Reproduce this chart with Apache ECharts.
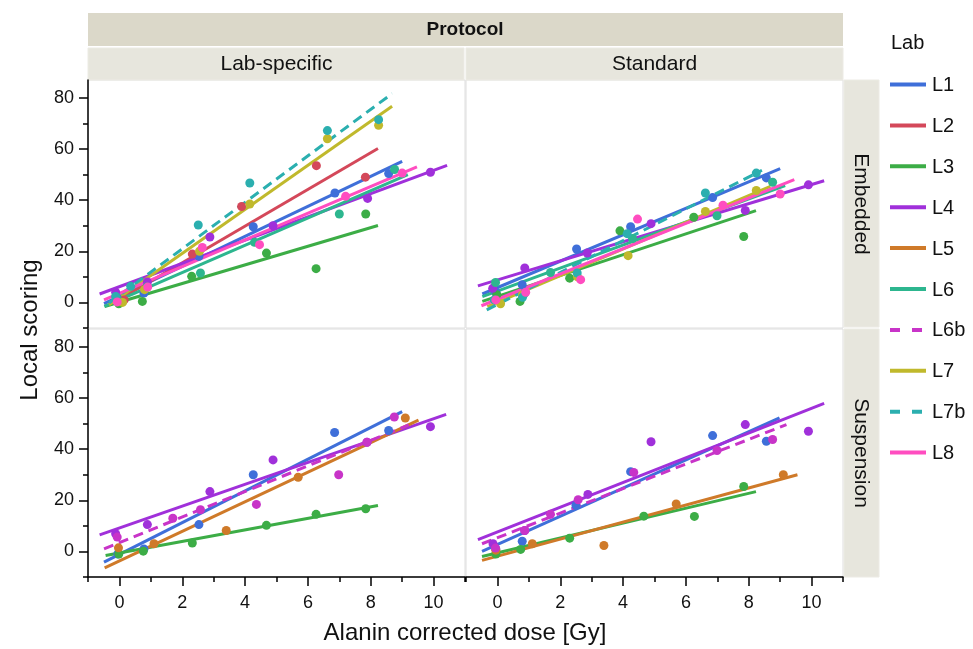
<!DOCTYPE html>
<html>
<head>
<meta charset="utf-8">
<script src="https://cdn.jsdelivr.net/npm/echarts@6/dist/echarts.min.js"></script>
<style>html,body{margin:0;padding:0;background:#fff}#c{width:973px;height:649px}</style>
</head>
<body>
<div id="c"></div>
<script>
// ---------- DATA ----------
const labs = ['L1','L2','L3','L4','L5','L6','L6b','L7','L7b','L8'];
const protocols = ['Lab-specific','Standard'];
const matrices = ['Embedded','Suspension'];
const xTicks = [0,2,4,6,8,10];
const yTicks = [0,20,40,60,80];

// Points per lab: [dose, score]  (Lab-specific / Embedded)
const ptsLabEmb = {
  L1: [[-0.05,1.5],[0.78,3.7],[2.53,18],[4.26,29.6],[6.86,42.8],[8.57,50.4]],
  L2: [[0.15,1],[2.32,18.9],[3.89,37.5],[6.27,53.5],[7.83,49]],
  L3: [[-0.02,-0.5],[0.73,0.4],[2.3,10.2],[4.68,19.3],[6.26,13.2],[7.84,34.6]],
  L4: [[-0.12,4],[0.89,8],[2.88,25.6],[4.89,30],[7.9,40.7],[9.9,50.9]],
  L6: [[-0.05,1],[0.87,6],[2.58,11.5],[4.3,23.5],[7.0,34.6],[8.76,52]],
  L7: [[0.1,0],[0.8,5],[2.55,20],[4.15,38.5],[6.62,64],[8.25,69.3]],
  L7b:[[-0.12,2.3],[0.36,6.3],[2.51,30.3],[4.15,46.7],[6.62,67.2],[8.25,71.5]],
  L8: [[-0.07,0.2],[0.9,6],[2.64,21.5],[4.46,22.6],[7.2,41.5],[9.0,50.6]]
};
// Fitted lines: [[x0,y0],[x1,y1]]
const fitLabEmb = {
  L1: [[-0.49,-0.5],[9.0,55.2]],
  L2: [[-0.3,-1],[8.23,60.2]],
  L3: [[-0.47,-1.6],[8.23,30.1]],
  L4: [[-0.63,3.3],[10.43,53.6]],
  L6: [[-0.48,-1.5],[9.18,50]],
  L7: [[-0.33,-0.9],[8.68,76.7]],
  L7b:[[-0.33,-0.2],[8.68,81.7]],
  L8: [[-0.49,1],[9.47,53]]
};

// Standard / Embedded
const ptsStdEmb = {
  L1: [[-0.05,4],[0.79,6.9],[2.52,20.9],[4.24,29.6],[6.85,41],[8.56,48.7]],
  L3: [[-0.02,3],[0.72,0.4],[2.3,9.5],[3.9,28],[6.25,33.3],[7.84,25.8]],
  L4: [[-0.15,5.5],[0.87,13.5],[2.86,19.3],[4.89,30.8],[7.89,36],[9.9,46]],
  L6: [[-0.06,7.8],[0.87,3.7],[1.69,11.7],[4.3,25],[6.99,33.9],[8.76,47]],
  L7: [[0.1,-0.5],[0.8,3],[2.55,10],[4.16,18.3],[6.62,35.6],[8.24,43.8]],
  L7b:[[-0.1,1],[0.8,2],[2.54,11.5],[4.13,26.9],[6.62,42.8],[8.24,50.6]],
  L8: [[-0.05,1],[0.9,4],[2.65,8.9],[4.46,32.6],[7.18,38],[9.0,42.4]]
};
const fitStdEmb = {
  L1: [[-0.48,3.3],[9.0,52.3]],
  L3: [[-0.48,0.4],[8.23,35.9]],
  L4: [[-0.62,6.5],[10.4,47.6]],
  L6: [[-0.48,2.3],[9.16,45.7]],
  L7: [[-0.32,-1.6],[8.69,45.4]],
  L7b:[[-0.34,-2.9],[8.42,51.7]],
  L8: [[-0.51,-1.3],[9.45,48]]
};

// Lab-specific / Suspension
const ptsLabSus = {
  L1: [[-0.05,-1],[0.78,1],[2.53,10.5],[4.26,30],[6.85,46.5],[8.57,47.3]],
  L3: [[-0.02,-1],[0.76,0.1],[2.32,3.3],[4.68,10.2],[6.26,14.5],[7.84,16.7]],
  L4: [[-0.12,6.9],[0.89,10.5],[2.88,23.4],[4.89,35.8],[7.88,42.7],[9.9,48.8]],
  L5: [[-0.03,1.4],[1.1,3],[3.4,8.2],[5.69,29],[9.1,52.2]],
  L6b:[[-0.07,5.6],[1.7,13],[2.58,16.3],[4.36,18.4],[6.98,30],[7.88,42.7],[8.75,52.6]]
};
const fitLabSus = {
  L1: [[-0.49,-4.2],[9.0,54.7]],
  L3: [[-0.44,-1.6],[8.23,18]],
  L4: [[-0.63,6.5],[10.4,53.6]],
  L5: [[-0.47,-6.4],[9.52,51.4]],
  L6b:[[-0.49,1.0],[9.21,49.5]]
};

// Standard / Suspension
const ptsStdSus = {
  L1: [[-0.05,1],[0.79,4],[2.5,18],[4.24,31.2],[6.85,45.3],[8.56,43.1]],
  L3: [[-0.05,-1],[0.74,0.8],[2.3,5.2],[4.66,13.8],[6.27,13.7],[7.84,25.4]],
  L4: [[-0.14,3],[0.87,8.2],[2.88,22.3],[4.89,42.9],[7.89,49.6],[9.9,47]],
  L5: [[-0.05,0.5],[1.11,3],[3.39,2.3],[5.69,18.6],[9.1,30]],
  L6b:[[-0.06,1.3],[0.87,8.2],[1.69,14.5],[2.57,20.2],[4.34,30.9],[6.99,39.5],[8.76,43.8]]
};
const fitStdSus = {
  L1: [[-0.49,0],[8.98,52.2]],
  L3: [[-0.49,-2],[8.23,23.4]],
  L4: [[-0.62,4.6],[10.4,57.9]],
  L5: [[-0.49,-3.5],[9.55,30]],
  L6b:[[-0.49,3],[9.2,49.6]]
};

// ---------- STYLE ----------
const colors = {L1:'#3f6fd9',L2:'#d4485a',L3:'#3cad46',L4:'#a030da',L5:'#cf7a29',
  L6:'#2db68f',L6b:'#c834c8',L7:'#c0b92c',L7b:'#2bafaf',L8:'#ff4dc0'};
const dashed = {L6b:true, L7b:true};
const FONT = "'Liberation Sans', Arial, Helvetica, sans-serif";
const X_MIN=-1, X_MAX=11, Y_MIN=-10, Y_MAX=87;

const panels = [
  {pts:ptsLabEmb, fit:fitLabEmb},
  {pts:ptsStdEmb, fit:fitStdEmb},
  {pts:ptsLabSus, fit:fitLabSus},
  {pts:ptsStdSus, fit:fitStdSus}
];
const L=88, W=377, L2x=466, T1=80, H=248, T2=329;
const grids = [
  {left:L, top:T1, width:W, height:H},
  {left:L2x, top:T1, width:W, height:H},
  {left:L, top:T2, width:W, height:H},
  {left:L2x, top:T2, width:W, height:H}
].map(g=>Object.assign(g,{show:true,borderColor:'#dedede',borderWidth:1,containLabel:false}));

const hidden = {axisLine:{show:false,onZero:false},axisTick:{show:false},axisLabel:{show:false},splitLine:{show:false}};
const xAxes=[], yAxes=[];
for (let i=0;i<4;i++){
  const bottom = i>=2, left = (i%2===0);
  xAxes.push(Object.assign({type:'value',gridIndex:i,min:X_MIN,max:X_MAX,position:'bottom'}, bottom ? {
    axisLine:{show:true,onZero:false,lineStyle:{color:'#000',width:1.5}},
    axisTick:{show:true,length:9,customValues:xTicks,lineStyle:{color:'#000',width:1.5}},
    axisLabel:{show:true,customValues:xTicks,margin:17,fontSize:18,color:'#111',fontFamily:FONT},
    splitLine:{show:false}
  } : hidden));
  yAxes.push(Object.assign({type:'value',gridIndex:i,min:Y_MIN,max:Y_MAX,position:'left'}, left ? {
    axisLine:{show:true,onZero:false,lineStyle:{color:'#000',width:1.5}},
    axisTick:{show:true,length:9,customValues:yTicks,lineStyle:{color:'#000',width:1.5}},
    axisLabel:{show:true,customValues:yTicks,margin:14,fontSize:18,color:'#111',fontFamily:FONT},
    splitLine:{show:false}
  } : hidden));
}
// minor ticks
const xMinor=[-1,1,3,5,7,9,11], yMinor=[-10,10,30,50,70];
[2,3].forEach(g=>xAxes.push({type:'value',gridIndex:g,min:X_MIN,max:X_MAX,position:'bottom',
  axisLine:{show:false,onZero:false},axisLabel:{show:false},splitLine:{show:false},
  axisTick:{show:true,length:5,customValues:xMinor,lineStyle:{color:'#000',width:1.5}}}));
[0,2].forEach(g=>yAxes.push({type:'value',gridIndex:g,min:Y_MIN,max:Y_MAX,position:'left',
  axisLine:{show:false,onZero:false},axisLabel:{show:false},splitLine:{show:false},
  axisTick:{show:true,length:5,customValues:yMinor,lineStyle:{color:'#000',width:1.5}}}));

const series=[];
panels.forEach((p,i)=>{
  labs.forEach(lab=>{
    if (p.fit[lab]) series.push({type:'line',name:lab,xAxisIndex:i,yAxisIndex:i,data:p.fit[lab],
      symbol:'none',silent:true,z:2,
      lineStyle:{color:colors[lab],width:3,type:dashed[lab]?[10,6]:'solid'}});
  });
  labs.forEach(lab=>{
    if (p.pts[lab]) series.push({type:'scatter',name:lab,xAxisIndex:i,yAxisIndex:i,data:p.pts[lab],
      symbol:'circle',symbolSize:9,z:3,itemStyle:{color:colors[lab],opacity:1}});
  });
});

// strips, titles, legend
const g=[];
const txt=(x,y,text,size,opts={})=>Object.assign({type:'text',x,y,style:{text,
  font:(opts.bold?'bold ':'')+size+'px '+FONT,fill:'#111',align:opts.align||'center',
  verticalAlign:'middle',textAlign:opts.align||'center',textVerticalAlign:'middle'}},
  opts.rot!==undefined?{rotation:opts.rot}:{} ,{z:10});
g.push({type:'rect',shape:{x:L,y:13,width:755,height:33},style:{fill:'#dbd8c9'}});
g.push(txt(465,30,'Protocol',19,{bold:true}));
g.push({type:'rect',shape:{x:L,y:48,width:376,height:32},style:{fill:'#e7e6dd',stroke:'#ecebe4'}});
g.push({type:'rect',shape:{x:L2x,y:48,width:377,height:32},style:{fill:'#e7e6dd',stroke:'#ecebe4'}});
g.push(txt(L+W/2,64,protocols[0],21));
g.push(txt(L2x+W/2,64,protocols[1],21));
g.push({type:'rect',shape:{x:844,y:T1,width:35,height:H-1},style:{fill:'#e7e6dd',stroke:'#ecebe4'}});
g.push({type:'rect',shape:{x:844,y:T2,width:35,height:H},style:{fill:'#e7e6dd',stroke:'#ecebe4'}});
g.push(txt(861,T1+H/2,matrices[0],21,{rot:-Math.PI/2}));
g.push(txt(861,T2+H/2,matrices[1],21,{rot:-Math.PI/2}));
g.push(txt(30,330,'Local scoring',24,{rot:Math.PI/2}));
g.push(txt(465,633,'Alanin corrected dose [Gy]',24));
g.push(txt(891,43,'Lab',20,{align:'left'}));
labs.forEach((lab,k)=>{
  const y=84.5+40.9*k;
  g.push({type:'line',shape:{x1:890,y1:y,x2:926,y2:y},
    style:{stroke:colors[lab],lineWidth:4,lineDash:dashed[lab]?[10,12]:null}});
  g.push(txt(932,y+1,lab,20,{align:'left'}));
});

const chart = echarts.init(document.getElementById('c'),null,{renderer:'canvas'});
chart.setOption({
  animation:false,
  backgroundColor:'#fff',
  grid:grids, xAxis:xAxes, yAxis:yAxes, series,
  graphic:{elements:g}
});
</script>
</body>
</html>
